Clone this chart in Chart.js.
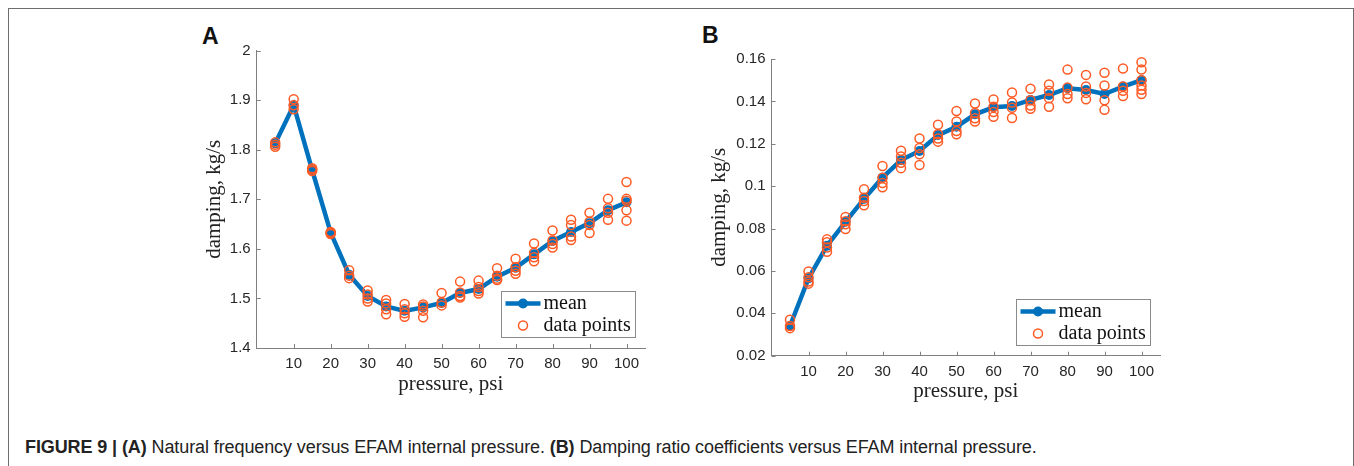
<!DOCTYPE html>
<html>
<head>
<meta charset="utf-8">
<script src="https://cdn.jsdelivr.net/npm/chart.js@4.4.1/dist/chart.umd.min.js"></script>
<style>
    html, body { margin: 0; padding: 0; background: #fff; }
    body { width: 1354px; height: 466px; position: relative; overflow: hidden; }
    .frame { position: absolute; left: 8px; top: 8px; width: 1344px; height: 480px; border: 1.5px solid #6e6e6e; }
    .panel { position: absolute; }
    .letter { position: absolute; font: bold 23px "Liberation Sans", Arial, sans-serif; color: #111; }
    .caption { position: absolute; left: 25px; top: 437px; font: 18px "Liberation Sans", Arial, sans-serif; color: #222; white-space: nowrap; letter-spacing: -0.1px; }
    .caption b { font-weight: bold; }
</style>
</head>
<body>
<div class="frame"></div>
<div class="letter" style="left:202px; top:23px;">A</div>
<div class="letter" style="left:702px; top:22px;">B</div>
<canvas id="chartA" class="panel" width="460" height="385" style="left:196px; top:20px;"></canvas>
<canvas id="chartB" class="panel" width="475" height="385" style="left:700px; top:20px;"></canvas>
<div class="caption"><b>FIGURE 9 | (A)</b> Natural frequency versus EFAM internal pressure. <b>(B)</b> Damping ratio coefficients versus EFAM internal pressure.</div>

<script>
// ── Data ─────────────────────────────────────────────────────
const pressure = [5, 10, 15, 20, 25, 30, 35, 40, 45, 50, 55, 60, 65, 70, 75, 80, 85, 90, 95, 100];
const xTicks = [10, 20, 30, 40, 50, 60, 70, 80, 90, 100];

const meanA = [1.813, 1.890, 1.759, 1.633, 1.548, 1.505, 1.484, 1.475, 1.482, 1.491,
               1.511, 1.519, 1.544, 1.562, 1.589, 1.616, 1.634, 1.652, 1.678, 1.694];
const pointsA = [
    [1.815, 1.810, 1.806],
    [1.902, 1.890, 1.882],
    [1.763, 1.760, 1.757],
    [1.634, 1.632, 1.630],
    [1.557, 1.546, 1.541],
    [1.516, 1.508, 1.500, 1.494],
    [1.497, 1.490, 1.478, 1.468],
    [1.489, 1.478, 1.470, 1.463],
    [1.488, 1.484, 1.475, 1.462],
    [1.511, 1.492, 1.486],
    [1.534, 1.512, 1.505, 1.502],
    [1.536, 1.523, 1.515, 1.510],
    [1.561, 1.546, 1.540, 1.537],
    [1.580, 1.563, 1.556, 1.550],
    [1.611, 1.592, 1.583, 1.575],
    [1.637, 1.617, 1.610, 1.603],
    [1.659, 1.648, 1.625, 1.618],
    [1.673, 1.655, 1.648, 1.632],
    [1.701, 1.682, 1.673, 1.659],
    [1.735, 1.701, 1.697, 1.678, 1.657]
];
const yTicksA = [1.4, 1.5, 1.6, 1.7, 1.8, 1.9, 2.0];

const meanB = [0.0340, 0.0565, 0.0719, 0.0832, 0.0940, 0.1040, 0.1123, 0.1166, 0.1241, 0.1280,
               0.1339, 0.1372, 0.1378, 0.1407, 0.1430, 0.1462, 0.1454, 0.1435, 0.1470, 0.1500];
const pointsB = [
    [0.0370, 0.0340, 0.0330],
    [0.0597, 0.0570, 0.0550, 0.0540],
    [0.0749, 0.0735, 0.0710, 0.0690],
    [0.0855, 0.0835, 0.0820, 0.0798],
    [0.0985, 0.0945, 0.0930, 0.0910],
    [0.1095, 0.1040, 0.1015, 0.0995],
    [0.1167, 0.1140, 0.1110, 0.1085],
    [0.1225, 0.1180, 0.1150, 0.1100],
    [0.1290, 0.1245, 0.1225, 0.1210],
    [0.1355, 0.1305, 0.1260, 0.1245],
    [0.1390, 0.1345, 0.1320, 0.1305],
    [0.1409, 0.1375, 0.1350, 0.1327],
    [0.1442, 0.1395, 0.1370, 0.1322],
    [0.1460, 0.1405, 0.1380, 0.1365],
    [0.1480, 0.1450, 0.1415, 0.1375],
    [0.1550, 0.1465, 0.1435, 0.1415],
    [0.1525, 0.1470, 0.1440, 0.1410],
    [0.1535, 0.1475, 0.1405, 0.1360],
    [0.1555, 0.1470, 0.1450, 0.1425],
    [0.1585, 0.1550, 0.1500, 0.1475, 0.1455, 0.1435]
];
const yTicksB = [0.02, 0.04, 0.06, 0.08, 0.10, 0.12, 0.14, 0.16];

const legendLabels = ['mean', 'data points'];

// ── Style ────────────────────────────────────────────────────
const BLUE = '#0072BD';
const ORANGE = '#FF5A24';
const AXIS = '#808080';
const TICK_TEXT = '#262626';
const SANS = '"Liberation Sans", Arial, sans-serif';
const SERIF = '"Liberation Serif", "Times New Roman", serif';

Chart.defaults.animation = false;
Chart.defaults.devicePixelRatio = 1;

/**
 * MATLAB-style inward tick marks and the boxed legend in the lower right.
 */
const matlabDecor = {
    id: 'matlabDecor',
    afterDraw(chart) {
        const { ctx, chartArea: a, scales } = chart;
        ctx.save();
        ctx.strokeStyle = AXIS;
        ctx.lineWidth = 1;
        ctx.beginPath();
        scales.x.ticks.forEach(t => {
            const px = Math.round(scales.x.getPixelForValue(t.value)) + 0.5;
            ctx.moveTo(px, a.bottom);
            ctx.lineTo(px, a.bottom - 4);
        });
        scales.y.ticks.forEach(t => {
            const py = Math.round(scales.y.getPixelForValue(t.value)) + 0.5;
            ctx.moveTo(a.left, py);
            ctx.lineTo(a.left + 4, py);
        });
        ctx.stroke();

        // legend box
        const w = 134, h = 46;
        const bx = Math.round(a.right - 10 - w) + 0.5;
        const by = Math.round(a.bottom - 11 - h) + 0.5;
        ctx.fillStyle = '#fff';
        ctx.fillRect(bx, by, w, h);
        ctx.strokeStyle = '#8a8a8a';
        ctx.strokeRect(bx, by, w, h);

        const row1 = by + 12, row2 = by + 34;
        ctx.strokeStyle = BLUE;
        ctx.lineWidth = 4.5;
        ctx.beginPath();
        ctx.moveTo(bx + 4, row1);
        ctx.lineTo(bx + 39, row1);
        ctx.stroke();
        ctx.fillStyle = BLUE;
        ctx.beginPath();
        ctx.arc(bx + 21.5, row1, 5, 0, Math.PI * 2);
        ctx.fill();

        ctx.strokeStyle = ORANGE;
        ctx.lineWidth = 1.5;
        ctx.beginPath();
        ctx.arc(bx + 21.5, row2, 4.5, 0, Math.PI * 2);
        ctx.stroke();

        ctx.fillStyle = '#111';
        ctx.font = '20px ' + SERIF;
        ctx.textBaseline = 'middle';
        ctx.fillText(legendLabels[0], bx + 42, row1);
        ctx.fillText(legendLabels[1], bx + 42, row2);
        ctx.restore();
    }
};

/**
 * Build one panel.
 */
function createPanel(canvasId, mean, points, yTicks, box) {
    const ctx = document.getElementById(canvasId).getContext('2d');

    const meanData = pressure.map((p, i) => ({ x: p, y: mean[i] }));
    const pointData = [];
    pressure.forEach((p, i) => {
        points[i].forEach(v => pointData.push({ x: p, y: v }));
    });

    return new Chart(ctx, {
        type: 'scatter',
        data: {
            datasets: [
                {
                    label: legendLabels[0], data: meanData, showLine: true,
                    borderColor: BLUE, backgroundColor: BLUE, borderWidth: 4.5,
                    pointRadius: 5, pointBorderWidth: 0, pointBackgroundColor: BLUE,
                    clip: false, order: 2
                },
                {
                    label: legendLabels[1], data: pointData,
                    borderColor: ORANGE, backgroundColor: 'rgba(0,0,0,0)',
                    pointRadius: 4.5, pointBorderWidth: 1.5,
                    clip: false, order: 1
                }
            ]
        },
        options: {
            responsive: false,
            layout: { padding: { top: box.top, right: box.right, left: 0, bottom: 0 } },
            plugins: { legend: { display: false }, tooltip: { enabled: false } },
            scales: {
                x: {
                    type: 'linear', min: 0, max: 105,
                    afterBuildTicks: s => { s.ticks = xTicks.map(v => ({ value: v })); },
                    afterFit: s => { s.height = box.xHeight; },
                    grid: { display: false, drawTicks: false },
                    border: { display: true, color: AXIS, width: 1 },
                    ticks: { color: TICK_TEXT, font: { family: SANS, size: 15 }, padding: 7, maxRotation: 0 },
                    title: { display: true, text: 'pressure, psi', color: '#222',
                             font: { family: SERIF, size: 21 }, padding: { top: 0, bottom: box.xTitlePad } }
                },
                y: {
                    type: 'linear', min: yTicks[0], max: yTicks[yTicks.length - 1],
                    afterBuildTicks: s => { s.ticks = yTicks.map(v => ({ value: v })); },
                    afterFit: s => { s.width = box.yWidth; },
                    grid: { display: false, drawTicks: false },
                    border: { display: true, color: AXIS, width: 1 },
                    ticks: { color: TICK_TEXT, font: { family: SANS, size: 15 }, padding: 6,
                             callback: v => String(+v.toFixed(2)) },
                    title: { display: true, text: 'damping, kg/s', color: '#222',
                             font: { family: SERIF, size: 21 }, padding: { top: box.yTitlePad, bottom: 0 } }
                }
            }
        },
        plugins: [matlabDecor]
    });
}

createPanel('chartA', meanA, pointsA, yTicksA,
    { top: 30.7, right: 11, xHeight: 57, yWidth: 60.7, xTitlePad: 8.4, yTitlePad: 5.4 });
createPanel('chartB', meanB, pointsB, yTicksB,
    { top: 39, right: 15, xHeight: 49.3, yWidth: 71.5, xTitlePad: 0.7, yTitlePad: 6.4 });
</script>
</body>
</html>
